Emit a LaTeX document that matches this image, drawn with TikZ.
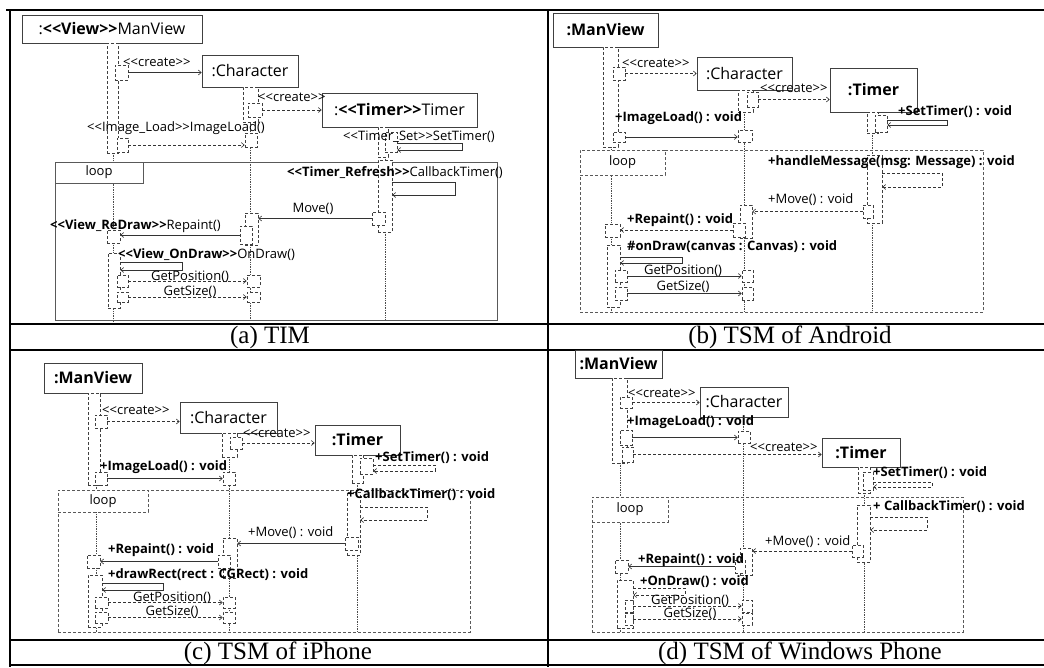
\documentclass[tikz,border=0pt]{standalone}
\usepackage{fontspec}
\setmainfont{Liberation Serif}
\setsansfont{Open Sans}
\usetikzlibrary{arrows.meta,fit}

\newcommand{\stereo}[1]{<\kern0pt<#1>\kern0pt>}

\tikzset{
  obj/.style={draw=black!75, line width=.6pt, fill=white, inner sep=0pt, font=\sffamily\fontsize{16}{18}\selectfont},
  act/.style={draw=black!75, densely dashed, line width=.6pt, fill=white, inner sep=0pt},
  life/.style={draw=black!70, densely dotted, line width=.7pt},
  loopbox/.style={draw=black!65, densely dashed, line width=.7pt, inner sep=0pt},
  looptag/.style={loopbox, fill=white, font=\sffamily\fontsize{13}{15}\selectfont},
  msg/.style={draw=black!80, line width=.6pt, -{Straight Barb[length=3pt,width=5pt]}},
  dmsg/.style={msg, densely dashed},
  lbl/.style={font=\sffamily\fontsize{13}{15}\selectfont, inner sep=0pt, anchor=west},
  blbl/.style={lbl, font=\sffamily\bfseries\fontsize{13}{15}\selectfont},
  capt/.style={font=\rmfamily\fontsize{25}{27}\selectfont, inner sep=0pt},
  tabline/.style={draw=black, line width=1.2pt}
}

\begin{document}
\begin{tikzpicture}[x=1pt,y=-1pt]
\useasboundingbox (0,0) rectangle (1044,667);

% table
\draw[tabline] (6,10) -- (1044,10);
\draw[tabline] (10,10) -- (10,667);
\draw[tabline] (548,10) -- (548,667);
\draw[tabline] (10,324) -- (1044,324);
\draw[tabline] (10,350) -- (1044,350);
\draw[tabline] (10,640) -- (1044,640);
\draw[tabline] (10,665) -- (1044,665);
\node[capt] (capA) at (270,337) {(a) TIM};
\node[capt] (capB) at (790,337) {(b) TSM of Android};
\node[capt] (capC) at (278,653) {(c) TSM of iPhone};
\node[capt] (capD) at (800,653) {(d) TSM of Windows Phone};

% (a) TIM
\draw[life] (113,153) -- (113,322);
\draw[life] (250,87) -- (250,320);
\draw[life] (385,157) -- (385,320);
\node[loopbox, solid, fit={(55,162) (497,320)}] (lpA) {};
\node[looptag, solid, minimum width=88pt, minimum height=21pt] (lpAtag) at (99,172.5) {loop};
\node[obj, minimum width=180pt, minimum height=28pt] (mvA) at (112,29) {:\textbf{\stereo{View}}ManView};
\node[obj, minimum width=96pt, minimum height=32pt] (chA) at (250,71) {:Character};
\node[obj, minimum width=155pt, minimum height=34pt] (tmA) at (399.5,110) {:\textbf{\stereo{Timer}}Timer};
\node[act, fit={(107,43) (118,153)}] (mvAbar) {};
\node[act, fit={(115,65) (128,80)}] (a1) {};
\node[act, fit={(243,87) (258,122)}] (chAbar) {};
\node[act, fit={(248,103) (262,117)}] (a2) {};
\node[act, fit={(378,127) (388,157)}] (tmAbar) {};
\node[act, fit={(385,132) (397,152)}] (a3) {};
\node[act, fit={(117,138) (128,152)}] (a4) {};
\node[act, fit={(245,133) (257,147)}] (a5) {};
\node[act, fit={(378,160) (392,232)}] (a6) {};
\node[act, fit={(372,212) (385,225)}] (a7) {};
\node[act, fit={(245,213) (258,245)}] (a8) {};
\node[act, fit={(240,226) (252,244)}] (a9) {};
\node[act, fit={(107,230) (120,243)}] (a10) {};
\node[act, fit={(108,253) (120,308)}] (a11) {};
\node[act, fit={(117,275) (128,287)}] (a12) {};
\node[act, fit={(247,275) (260,287)}] (a13) {};
\node[act, fit={(117,292) (128,302)}] (a14) {};
\node[act, fit={(247,292) (260,302)}] (a15) {};
\draw[msg] (a1.east) -- (chA.west |- a1.east);
\draw[dmsg] (a2.east) -- (tmA.west |- a2.east);
\draw[msg] (a3.east |- 0,143) -- (462,143) |- (a3.east |- 0,150);
\draw[dmsg] (a4.east) -- (a5.west |- a4.east);
\draw[msg] (a6.east |- 0,182) -- (455,182) |- (a6.east |- 0,195);
\draw[msg] (a7.west) -- (a8.east |- a7.west);
\draw[msg] (a9.west) -- (a10.east |- a9.west);
\draw[msg] (a11.east |- 0,262) -- (182,262) |- (a11.east |- 0,270);
\draw[dmsg] (a12.east) -- (a13.west);
\draw[dmsg] (a14.east) -- (a15.west);
\node[lbl] (la1) at (123,62) {\stereo{create}};
\node[lbl] (la2) at (258,97) {\stereo{create}};
\node[lbl] (la3) at (343,137) {\stereo{Timer\_Set}SetTimer()};
\node[lbl] (la4) at (87,128) {\stereo{Image\_Load}ImageLoad()};
\node[lbl] (la5) at (287,173) {\textbf{\stereo{Timer\_Refresh}}CallbackTimer()};
\node[lbl, anchor=center] (la6) at (313,209) {Move()};
\node[lbl] (la7) at (50,226) {\textbf{\stereo{View\_ReDraw}}Repaint()};
\node[lbl] (la8) at (118,255) {\textbf{\stereo{View\_OnDraw}}OnDraw()};
\node[lbl, anchor=base] (la9) at (190,280) {GetPosition()};
\node[lbl, anchor=base] (la10) at (190,295) {GetSize()};

% (b) TSM of Android
\draw[life] (611,147) -- (611,312);
\draw[life] (744,112) -- (744,312);
\draw[life] (872,133) -- (872,312);
\node[loopbox, fit={(580,150) (983,312)}] (lpB) {};
\node[looptag, minimum width=85pt, minimum height=25pt] (lpBtag) at (622.5,162.5) {loop};
\node[obj, minimum width=105pt, minimum height=34pt] (mvB) at (605.5,30) {\textbf{:ManView}};
\node[obj, minimum width=95pt, minimum height=33pt] (chB) at (744.5,73.5) {:Character};
\node[obj, minimum width=87pt, minimum height=44pt] (tmB) at (873.5,90) {\textbf{:Timer}};
\node[act, fit={(603,47) (618,147)}] (mvBbar) {};
\node[act, fit={(613,67) (625,80)}] (b1) {};
\node[act, fit={(738,90) (753,112)}] (chBbar) {};
\node[act, fit={(747,92) (758,107)}] (b2) {};
\node[act, fit={(867,112) (878,133)}] (tmBbar) {};
\node[act, fit={(875,115) (887,132)}] (b3) {};
\node[act, fit={(613,132) (625,142)}] (b4) {};
\node[act, fit={(738,130) (752,142)}] (b5) {};
\node[act, fit={(867,155) (882,223)}] (b6) {};
\node[act, fit={(863,205) (873,218)}] (b7) {};
\node[act, fit={(740,205) (752,238)}] (b8) {};
\node[act, fit={(733,223) (745,237)}] (b9) {};
\node[act, fit={(605,224) (620,237)}] (b10) {};
\node[act, fit={(607,245) (620,307)}] (b11) {};
\node[act, fit={(615,270) (627,282)}] (b12) {};
\node[act, fit={(742,270) (753,282)}] (b13) {};
\node[act, fit={(615,287) (627,300)}] (b14) {};
\node[act, fit={(742,287) (753,300)}] (b15) {};
\draw[dmsg] (b1.east) -- (chB.west |- b1.east);
\draw[dmsg] (b2.east) -- (tmB.west |- b2.east);
\draw[msg] (b3.east |- 0,120) -- (947,120) |- (b3.east |- 0,125);
\draw[msg] (b4.east) -- (b5.west |- b4.east);
\draw[dmsg] (b6.east |- 0,173) -- (942,173) |- (b6.east |- 0,187);
\draw[dmsg] (b7.west) -- (b8.east |- b7.west);
\draw[dmsg] (b9.west) -- (b10.east |- b9.west);
\draw[msg] (b11.east |- 0,257) -- (682,257) |- (b11.east |- 0,263);
\draw[msg] (b12.east) -- (b13.west);
\draw[msg] (b14.east) -- (b15.west);
\node[lbl] (lb1) at (622,63) {\stereo{create}};
\node[lbl] (lb2) at (760,88) {\stereo{create}};
\node[blbl] (lb3) at (898,112) {+SetTimer() : void};
\node[blbl] (lb4) at (615,118) {+ImageLoad() : void};
\node[blbl] (lb5) at (768,162) {+handleMessage(msg: Message) : void};
\node[lbl] (lb6) at (768,200) {+Move() : void};
\node[blbl] (lb7) at (627,220) {+Repaint() : void};
\node[blbl] (lb8) at (627,247) {\#onDraw(canvas : Canvas) : void};
\node[lbl, anchor=base] (lb9) at (683,274) {GetPosition()};
\node[lbl, anchor=base] (lb10) at (683,290) {GetSize()};

% (c) TSM of iPhone
\draw[life] (96,485) -- (96,632);
\draw[life] (229,457) -- (229,632);
\draw[life] (357,483) -- (357,632);
\node[loopbox, fit={(58,490) (470,632)}] (lpC) {};
\node[looptag, minimum width=90pt, minimum height=22pt] (lpCtag) at (103,501) {loop};
\node[obj, minimum width=98pt, minimum height=30pt] (mvC) at (93,378) {\textbf{:ManView}};
\node[obj, minimum width=97pt, minimum height=31pt] (chC) at (228.5,417.5) {:Character};
\node[obj, minimum width=85pt, minimum height=30pt] (tmC) at (357.5,440) {\textbf{:Timer}};
\node[act, fit={(88,393) (100,485)}] (mvCbar) {};
\node[act, fit={(95,415) (107,428)}] (c1) {};
\node[act, fit={(222,433) (237,457)}] (chCbar) {};
\node[act, fit={(230,437) (242,449)}] (c2) {};
\node[act, fit={(352,455) (363,483)}] (tmCbar) {};
\node[act, fit={(360,458) (373,474)}] (c3) {};
\node[act, fit={(95,472) (107,485)}] (c4) {};
\node[act, fit={(223,472) (235,485)}] (c5) {};
\node[act, fit={(347,492) (360,555)}] (c6) {};
\node[act, fit={(345,537) (358,550)}] (c7) {};
\node[act, fit={(223,538) (237,578)}] (c8) {};
\node[act, fit={(218,555) (230,568)}] (c9) {};
\node[act, fit={(87,555) (100,568)}] (c10) {};
\node[act, fit={(88,575) (102,627)}] (c11) {};
\node[act, fit={(95,597) (108,608)}] (c12) {};
\node[act, fit={(223,597) (235,608)}] (c13) {};
\node[act, fit={(95,612) (108,623)}] (c14) {};
\node[act, fit={(223,612) (235,623)}] (c15) {};
\draw[dmsg] (c1.east) -- (chC.west |- c1.east);
\draw[dmsg] (c2.east) -- (tmC.west |- c2.east);
\draw[dmsg] (c3.east |- 0,465) -- (435,465) |- (c3.east |- 0,471);
\draw[msg] (c4.east) -- (c5.west);
\draw[dmsg] (c6.east |- 0,507) -- (427,507) |- (c6.east |- 0,520);
\draw[msg] (c7.west) -- (c8.east |- c7.west);
\draw[msg] (c9.west) -- (c10.east |- c9.west);
\draw[msg] (c11.east |- 0,583) -- (163,583) |- (c11.east |- 0,590);
\draw[dmsg] (c12.east) -- (c13.west);
\draw[dmsg] (c14.east) -- (c15.west);
\node[lbl] (lc1) at (102,410) {\stereo{create}};
\node[lbl] (lc2) at (243,433) {\stereo{create}};
\node[blbl] (lc3) at (375,458) {+SetTimer() : void};
\node[blbl] (lc4) at (100,467) {+ImageLoad() : void};
\node[blbl] (lc5) at (347,495) {+CallbackTimer() : void};
\node[lbl] (lc6) at (248,533) {+Move() : void};
\node[blbl] (lc7) at (108,550) {+Repaint() : void};
\node[blbl] (lc8) at (108,575) {+drawRect(rect : CGRect) : void};
\node[lbl, anchor=base] (lc9) at (172,601) {GetPosition()};
\node[lbl, anchor=base] (lc10) at (172,615) {GetSize()};

% (d) TSM of Windows Phone
\draw[life] (620,463) -- (620,632);
\draw[life] (743,417) -- (743,632);
\draw[life] (864,493) -- (864,632);
\node[loopbox, fit={(592,497) (963,632)}] (lpD) {};
\node[looptag, minimum width=76pt, minimum height=25pt] (lpDtag) at (630,509.5) {loop};
\node[obj, minimum width=87pt, minimum height=28pt] (mvD) at (618.5,364) {\textbf{:ManView}};
\node[obj, minimum width=88pt, minimum height=30pt] (chD) at (744,402) {:Character};
\node[obj, minimum width=78pt, minimum height=29pt] (tmD) at (861,452.5) {\textbf{:Timer}};
\node[act, fit={(612,378) (627,463)}] (mvDbar) {};
\node[act, fit={(620,397) (632,408)}] (d1) {};
\node[act, fit={(620,430) (632,445)}] (d2) {};
\node[act, fit={(738,431) (750,443)}] (d3) {};
\node[act, fit={(622,447) (633,462)}] (d4) {};
\node[act, fit={(858,467) (870,493)}] (tmDbar) {};
\node[act, fit={(863,472) (873,490)}] (d5) {};
\node[act, fit={(857,505) (870,562)}] (d6) {};
\node[act, fit={(852,545) (863,557)}] (d7) {};
\node[act, fit={(740,548) (752,575)}] (d8) {};
\node[act, fit={(735,560) (745,573)}] (d9) {};
\node[act, fit={(615,560) (628,573)}] (d10) {};
\node[act, fit={(617,580) (633,628)}] (d11) {};
\node[act, fit={(625,600) (633,612)}] (d12) {};
\node[act, fit={(742,600) (752,612)}] (d13) {};
\node[act, fit={(625,613) (633,625)}] (d14) {};
\node[act, fit={(742,613) (752,625)}] (d15) {};
\draw[dmsg] (d1.east) -- (chD.west |- d1.east);
\draw[msg] (d2.east) -- (d3.west |- d2.east);
\draw[dmsg] (d4.east) -- (tmD.west |- d4.east);
\draw[dmsg] (d5.east |- 0,482) -- (932,482) |- (d5.east |- 0,487);
\draw[dmsg] (d6.east |- 0,517) -- (927,517) |- (d6.east |- 0,530);
\draw[dmsg] (d7.west) -- (d8.east |- d7.west);
\draw[msg] (d9.west) -- (d10.east |- d9.west);
\draw[dmsg] (d11.east |- 0,588) -- (685,588) |- (d11.east |- 0,595);
\draw[dmsg] (d12.east) -- (d13.west);
\draw[dmsg] (d14.east) -- (d15.west);
\node[lbl] (ld1) at (628,393) {\stereo{create}};
\node[blbl] (ld2) at (627,422) {+ImageLoad() : void};
\node[lbl] (ld3) at (750,447) {\stereo{create}};
\node[blbl] (ld4) at (873,473) {+SetTimer() : void};
\node[blbl] (ld5) at (873,507) {+ CallbackTimer() : void};
\node[lbl] (ld6) at (765,542) {+Move() : void};
\node[blbl] (ld7) at (638,560) {+Repaint() : void};
\node[blbl] (ld8) at (640,582) {+OnDraw() : void};
\node[lbl, anchor=base] (ld9) at (690,604) {GetPosition()};
\node[lbl, anchor=base] (ld10) at (690,617) {GetSize()};
\end{tikzpicture}
\end{document}
